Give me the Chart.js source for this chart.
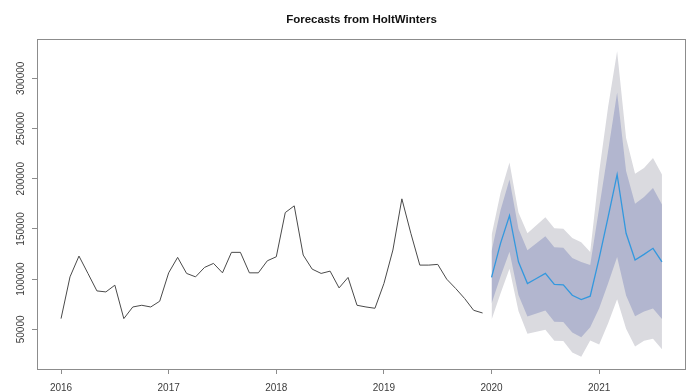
<!DOCTYPE html>
<html>
<head>
<meta charset="utf-8">
<script src="https://cdn.jsdelivr.net/npm/chart.js@4.4.1/dist/chart.umd.min.js"></script>
<style>
  html, body { margin: 0; padding: 0; background: #ffffff; }
  #wrap { width: 696px; height: 392px; }
</style>
</head>
<body>
<div id="wrap"><canvas id="chart" width="696" height="392"></canvas></div>
<script>
// Monthly series, Jan 2016 - Dec 2019
const startYear = 2016;
const observed = [
  60700, 102300, 123000, 105700, 88300, 87300, 94000, 60700, 72300, 74000, 72300, 78000,
  106300, 121700, 105700, 102300, 111700, 115700, 106300, 126700, 126700, 106300, 106300, 118300,
  122300, 166300, 173000, 124000, 110000, 105700, 108000, 91300, 101700, 74000, 72300, 71000,
  95700, 129000, 180000, 145700, 114000, 114000, 114700, 100000, 90700, 80700, 69000, 66300
];

// HoltWinters forecast, Jan 2020 - Aug 2021, with 80% and 95% intervals
const forecastMean = [101700, 135700, 163300, 117300, 95700, 100700, 105700, 94700, 94300, 84000,
  79700, 83000, 121000, 162000, 204000, 145700, 119000, 124700, 130700, 117300];
const hi80 = [127700, 168700, 199300, 150300, 128700, 135700, 142700, 131700, 131300, 121000,
  117200, 114000, 171000, 228000, 286000, 207700, 175000, 181700, 190700, 174300];
const lo80 = [75700, 102700, 127300, 84300, 62700, 65700, 68700, 57700, 57300, 47000,
  42200, 52000, 71000, 96000, 122000, 83700, 63000, 67700, 70700, 60300];
const hi95 = [143700, 185700, 216300, 166300, 145700, 153700, 161700, 150700, 150300, 141000,
  136700, 127000, 207000, 272000, 327000, 240700, 205000, 210700, 220700, 204300];
const lo95 = [59700, 85700, 110300, 68300, 45700, 47700, 49700, 38700, 38300, 27000,
  22700, 39000, 35000, 56000, 80000, 50700, 33000, 38700, 40700, 30300];

const chartTitle = 'Forecasts from HoltWinters';
const xTickYears = [2016, 2017, 2018, 2019, 2020, 2021];
const yTickValues = [50000, 100000, 150000, 200000, 250000, 300000];

// time index helpers
const obsPts = arr => arr.map((v, i) => ({ x: startYear + i / 12, y: v }));
const fcStart = observed.length;
const fcPts = arr => arr.map((v, i) => ({ x: startYear + (fcStart + i) / 12, y: v }));

// axis limits padded by 4% on each side, like base R graphics
const allY = observed.concat(hi95, lo95);
const yMinData = Math.min(...allY), yMaxData = Math.max(...allY);
const yPad = (yMaxData - yMinData) * 0.04;
const xMinData = startYear, xMaxData = startYear + (fcStart + forecastMean.length - 1) / 12;
const xPad = (xMaxData - xMinData) * 0.04;

const FRAME = '#8c8c8c';
const TEXT = '#3c3c3c';
const FONT = "'Liberation Sans', Arial, sans-serif";

// plot frame, title centred over the plot region, and vertical y tick labels
const frameAndLabels = {
  id: 'frameAndLabels',
  afterDraw(chart) {
    const { ctx, chartArea: a, scales } = chart;
    ctx.save();
    ctx.strokeStyle = FRAME;
    ctx.lineWidth = 1;
    ctx.strokeRect(Math.round(a.left) + 0.5, Math.round(a.top) + 0.5,
      Math.round(a.right - a.left) - 1, Math.round(a.bottom - a.top));

    ctx.fillStyle = '#111';
    ctx.font = 'bold 11.5px ' + FONT;
    ctx.textAlign = 'center';
    ctx.textBaseline = 'middle';
    ctx.fillText(chartTitle, (a.left + a.right) / 2, 20);

    ctx.fillStyle = TEXT;
    ctx.font = '10px ' + FONT;
    scales.y.ticks.forEach(t => {
      const py = scales.y.getPixelForValue(t.value);
      ctx.save();
      ctx.translate(21, py);
      ctx.rotate(-Math.PI / 2);
      ctx.fillText(String(t.value), 0, 0);
      ctx.restore();
    });
    ctx.restore();
  }
};

new Chart(document.getElementById('chart'), {
  type: 'line',
  data: {
    datasets: [
      { data: fcPts(hi95), fill: '+1', backgroundColor: '#dadadf', borderWidth: 0, pointRadius: 0, order: 10 },
      { data: fcPts(lo95), fill: false, borderWidth: 0, pointRadius: 0, order: 9 },
      { data: fcPts(hi80), fill: '+1', backgroundColor: '#b2b6cf', borderWidth: 0, pointRadius: 0, order: 8 },
      { data: fcPts(lo80), fill: false, borderWidth: 0, pointRadius: 0, order: 7 },
      { data: obsPts(observed), borderColor: '#4a4a4a', borderWidth: 1, pointRadius: 0, fill: false, tension: 0, order: 2 },
      { data: fcPts(forecastMean), borderColor: '#3398de', borderWidth: 1.3, pointRadius: 0, fill: false, tension: 0, order: 1 }
    ]
  },
  options: {
    responsive: false,
    animation: false,
    events: [],
    layout: { padding: { left: 0, right: 10, top: 39, bottom: 0 } },
    plugins: {
      legend: { display: false },
      tooltip: { enabled: false },
      title: { display: false }
    },
    scales: {
      x: {
        type: 'linear',
        min: xMinData - xPad,
        max: xMaxData + xPad,
        afterBuildTicks: s => { s.ticks = xTickYears.map(v => ({ value: v })); },
        afterFit: s => { s.height = 23; },
        grid: { display: true, drawOnChartArea: false, drawTicks: true, tickLength: 5, color: FRAME },
        border: { display: false },
        ticks: {
          color: TEXT, padding: 8, maxRotation: 0, autoSkip: false,
          font: { family: FONT, size: 10, lineHeight: 1.2 },
          callback: v => String(v)
        }
      },
      y: {
        type: 'linear',
        min: yMinData - yPad,
        max: yMaxData + yPad,
        afterBuildTicks: s => { s.ticks = yTickValues.map(v => ({ value: v })); },
        afterFit: s => { s.width = 37; },
        grid: { display: true, drawOnChartArea: false, drawTicks: true, tickLength: 5, color: FRAME },
        border: { display: false },
        ticks: { display: false }
      }
    }
  },
  plugins: [frameAndLabels]
});
</script>
</body>
</html>
